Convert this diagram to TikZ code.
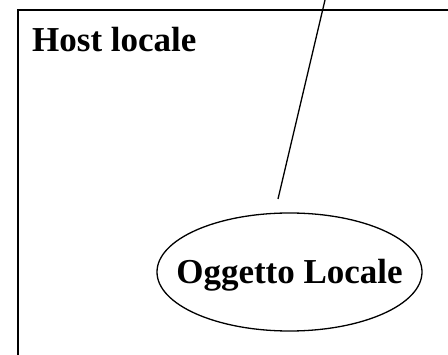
\documentclass[tikz,border=0pt]{standalone}
\usepackage{fontspec}
\setmainfont{Liberation Serif}
\usetikzlibrary{shapes.geometric}
\begin{document}
\begin{tikzpicture}[x=1pt,y=1pt,
  hostbox/.style={draw, line width=2.2pt, anchor=north west, minimum width=600pt, minimum height=500pt, inner sep=0pt},
  label/.style={font=\fontsize{35}{42}\selectfont\bfseries, inner sep=0pt},
  objell/.style={ellipse, draw, line width=1.3pt, minimum width=265pt, minimum height=118pt, inner sep=0pt},
  link/.style={line width=1.3pt}]
\useasboundingbox (0,0) rectangle (448,-355);
\clip (0,0) rectangle (448,-355);
\node[hostbox] (host) at (16.7,-9) {};
\node[label, anchor=base west] (hostlabel) at (32,-52) {Host locale};
\node[objell] (obj) at (289.5,-272) {};
\node[label, anchor=base] (objlabel) at ([yshift=-11.8pt]obj.center) {Oggetto Locale};
\coordinate (linetop) at (325,0);
\coordinate (lineend) at (278,-199);
\draw[link] (linetop) -- (lineend);
\end{tikzpicture}
\end{document}
